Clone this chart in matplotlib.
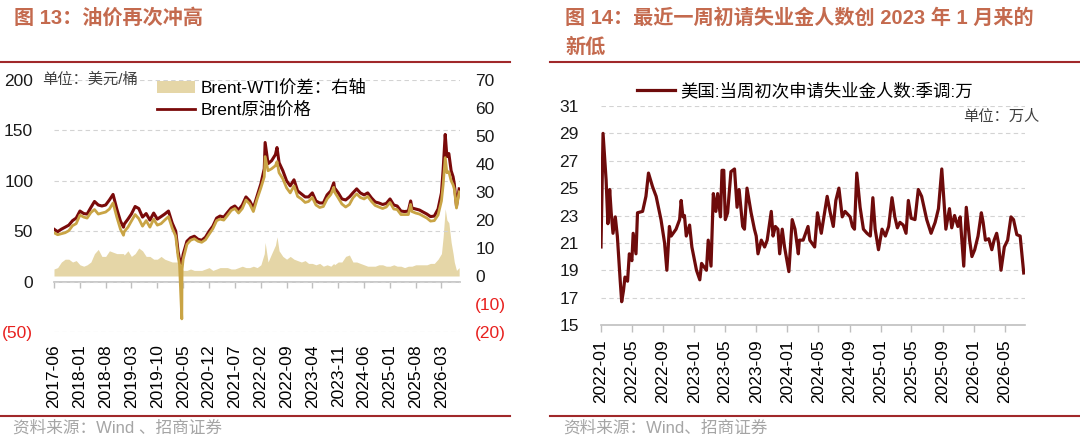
import pandas as pd
import matplotlib
matplotlib.use('Agg')
import matplotlib.pyplot as plt
import matplotlib.dates as mdates
from matplotlib.patches import Patch
from matplotlib.lines import Line2D

plt.rcParams['font.family'] = ['Liberation Sans', 'Noto Sans CJK SC']
plt.rcParams['axes.unicode_minus'] = False

# ---------------- 图13: Brent / WTI / spread ----------------
oil_dates = [
    '2017-06-01', '2017-07-01', '2017-08-01', '2017-09-01', '2017-10-01', '2017-11-01', '2017-12-01',
    '2018-01-01', '2018-02-01', '2018-03-01', '2018-04-01', '2018-05-01', '2018-06-01', '2018-07-01',
    '2018-08-01', '2018-09-01', '2018-10-01', '2018-11-01', '2018-12-01', '2018-12-26',
    '2019-01-01', '2019-02-01', '2019-03-01', '2019-04-01', '2019-05-01', '2019-06-01', '2019-07-01',
    '2019-08-01', '2019-09-01', '2019-10-01', '2019-11-01', '2019-12-01',
    '2020-01-01', '2020-02-01', '2020-03-01', '2020-03-20', '2020-04-01', '2020-04-20', '2020-04-22',
    '2020-05-01', '2020-06-01', '2020-07-01', '2020-08-01', '2020-09-01', '2020-10-01', '2020-11-01',
    '2020-12-01',
    '2021-01-01', '2021-02-01', '2021-03-01', '2021-04-01', '2021-05-01', '2021-06-01', '2021-07-01',
    '2021-08-01', '2021-09-01', '2021-10-01', '2021-11-01', '2021-12-01',
    '2022-01-01', '2022-02-01', '2022-03-01', '2022-03-08', '2022-04-01', '2022-05-01', '2022-06-01',
    '2022-06-14', '2022-07-01', '2022-08-01', '2022-09-01', '2022-10-01', '2022-11-01', '2022-12-01',
    '2023-01-01', '2023-02-01', '2023-03-01', '2023-04-01', '2023-05-01', '2023-06-01', '2023-07-01',
    '2023-08-01', '2023-09-01', '2023-09-25', '2023-10-01', '2023-11-01', '2023-12-01',
    '2024-01-01', '2024-02-01', '2024-03-01', '2024-04-01', '2024-05-01', '2024-06-01', '2024-07-01',
    '2024-08-01', '2024-09-01', '2024-10-01', '2024-11-01', '2024-12-01',
    '2025-01-01', '2025-02-01', '2025-03-01', '2025-04-01', '2025-05-01', '2025-06-01', '2025-06-20',
    '2025-07-01', '2025-08-01', '2025-09-01', '2025-10-01', '2025-11-01', '2025-12-01',
    '2026-01-01', '2026-02-01', '2026-03-01', '2026-03-15', '2026-04-01', '2026-04-15', '2026-05-01',
    '2026-05-20', '2026-06-05', '2026-06-15', '2026-07-03', '2026-07-25',
]
brent = [
    52, 49.5, 52, 54, 56, 60.5, 63,
    70, 67.5, 67, 73.5, 79.5, 76, 75, 76, 81, 86.5, 72, 60, 54,
    57, 62, 67, 74.5, 72.5, 64, 67.5, 61, 68, 62, 64.5, 67,
    70, 58, 50, 30, 22, 18, 20, 27, 40, 43.5, 45, 42, 41, 44, 50,
    55, 63, 65, 64, 68.5, 73, 75, 71, 76, 84, 80, 73,
    85, 97, 112, 138, 117, 120, 126, 133, 118, 110, 100, 95, 101, 90,
    87, 84, 84, 88, 80, 78, 78, 86, 90, 98, 93, 88, 82,
    81, 84, 88, 92, 88, 86, 88, 83, 79, 78, 76.5, 77.5,
    82, 76, 75, 70, 69.5, 70, 80, 73, 72, 71, 69, 67, 64.5,
    65, 72, 88, 111, 146, 124, 127, 110, 104, 97, 75, 92,
]
wti = [
    48.5, 46.5, 47.5, 48.5, 50.5, 55.5, 57.5,
    66, 64, 63, 68.5, 71.5, 67, 68, 69, 72, 78, 64, 52, 46,
    49.5, 54, 60, 66.5, 62.5, 55, 60.5, 54, 62, 56, 57.5, 61,
    64.5, 53, 45, 25, 17, -37, 12, 22, 37, 41, 42.5, 40, 39, 41.5, 47,
    52.5, 60.5, 62, 61, 65.5, 70.5, 72.5, 68, 72.5, 81, 77, 69.5,
    82, 93, 104, 124, 110, 112, 115, 119, 108, 102, 93, 88, 95, 84.5,
    82, 78.5, 79.5, 83.5, 76, 73.5, 74.5, 82, 86.5, 93.5, 89, 83, 77,
    74, 76.5, 83, 87, 83.5, 82, 84.5, 79.5, 75.5, 74, 72.5, 74,
    78.5, 72, 71.5, 66.5, 66.5, 66.5, 76.5, 69.5, 68, 67, 65, 63, 60,
    60.5, 66, 80, 96, 123, 108, 109, 100, 96, 92, 73, 89,
]
spread = [
    2.5, 3, 5, 6, 6, 5, 5.5,
    4, 3.5, 4, 5, 8, 9.5, 7, 7, 9, 8.5, 8, 8, 8,
    7.5, 9, 7, 8, 10, 9, 7, 7, 6, 6, 7, 6,
    5.5, 5, 5, 5, 5, 4, 3, 2, 2, 2.5, 2, 2, 2, 2.5, 3,
    2, 2.5, 3, 3, 3, 2.5, 2.5, 3, 3.5, 3, 3, 3.5,
    3, 4, 8, 12, 5, 8, 11, 14, 9, 7, 6, 7, 6, 5.5,
    5, 5.5, 4.5, 4.5, 4, 4.5, 3.5, 4, 3.5, 4.5, 4, 5, 5,
    7, 7.5, 5, 5, 4.5, 4, 3.5, 3.5, 3.5, 4, 4, 3.5,
    3.5, 4, 3.5, 3.5, 3, 3.5, 3.5, 3.5, 4, 4, 4, 4, 4.5,
    4.5, 6, 8, 14, 24, 20, 19, 12, 8, 5, 2, 3,
]
oil_ticks = ['2017-06', '2018-01', '2018-08', '2019-03', '2019-10', '2020-05', '2020-12', '2021-07',
             '2022-02', '2022-09', '2023-04', '2023-11', '2024-06', '2025-01', '2025-08', '2026-03']
left_yticks = [-50, 0, 50, 100, 150, 200]
right_yticks = [-20, -10, 0, 10, 20, 30, 40, 50, 60, 70]

# ---------------- 图14: initial jobless claims ----------------
claim_dates = [
    '2022-01-01', '2022-01-09', '2022-01-21', '2022-01-28', '2022-02-04', '2022-02-10', '2022-02-17',
    '2022-02-26', '2022-03-06', '2022-03-17', '2022-03-23', '2022-03-30', '2022-04-05', '2022-04-15',
    '2022-04-22', '2022-05-02', '2022-05-07', '2022-05-18', '2022-05-24', '2022-06-13', '2022-06-26',
    '2022-07-06', '2022-07-22', '2022-08-05', '2022-08-24', '2022-09-07', '2022-09-16', '2022-09-26',
    '2022-10-03', '2022-10-22', '2022-11-05', '2022-11-11', '2022-11-18', '2022-11-24', '2022-12-01',
    '2022-12-14', '2022-12-23',
    '2023-01-10', '2023-01-23', '2023-01-30', '2023-02-18', '2023-02-25', '2023-03-08', '2023-03-17',
    '2023-03-27', '2023-04-03', '2023-04-14', '2023-04-20', '2023-04-27', '2023-05-03', '2023-05-12',
    '2023-05-25', '2023-06-08', '2023-06-18', '2023-06-26', '2023-07-10', '2023-07-17', '2023-07-27',
    '2023-08-12', '2023-08-25', '2023-09-01', '2023-09-08', '2023-09-21', '2023-10-04', '2023-10-14',
    '2023-10-30', '2023-11-06', '2023-11-15', '2023-11-25', '2023-12-02', '2023-12-12', '2023-12-21',
    '2024-01-07', '2024-01-20', '2024-01-31', '2024-02-13', '2024-02-17', '2024-03-03', '2024-03-22',
    '2024-03-29', '2024-04-17', '2024-04-28', '2024-05-13', '2024-05-26', '2024-06-05', '2024-06-16',
    '2024-06-29', '2024-07-09', '2024-07-21', '2024-08-03', '2024-08-14', '2024-09-03', '2024-09-12',
    '2024-09-20', '2024-09-29', '2024-10-12', '2024-10-25', '2024-11-08', '2024-11-21', '2024-12-01',
    '2024-12-10', '2024-12-23',
    '2025-01-06', '2025-01-19', '2025-02-01', '2025-02-14', '2025-02-25', '2025-03-07', '2025-03-17',
    '2025-03-30', '2025-04-10', '2025-04-19', '2025-04-30', '2025-05-15', '2025-05-28', '2025-06-10',
    '2025-06-30', '2025-07-17', '2025-08-02', '2025-08-15', '2025-08-28', '2025-09-13', '2025-09-27',
    '2025-10-06', '2025-10-17', '2025-10-30', '2025-11-08', '2025-11-22', '2025-12-02', '2025-12-15',
    '2025-12-24',
    '2026-01-04', '2026-01-17', '2026-01-30', '2026-02-06', '2026-02-15', '2026-02-28', '2026-03-12',
    '2026-03-21', '2026-03-31', '2026-04-07', '2026-04-17', '2026-04-30', '2026-05-13', '2026-05-26',
    '2026-06-05', '2026-06-18', '2026-07-01', '2026-07-15',
]
claims = [
    20.7, 29.0, 25.6, 22.4, 24.9, 23.2, 21.7, 22.9, 21.5, 18.3, 16.7, 17.5, 18.5, 18.2,
    20.2, 19.7, 21.7, 20.2, 23.2, 23.3, 24.4, 26.1, 25.1, 24.4, 22.7, 21.0, 19.0, 22.2,
    21.5, 22.0, 22.7, 24.1, 22.9, 23.0, 21.5, 22.3, 20.7,
    19.0, 18.3, 19.5, 19.0, 21.2, 19.3, 24.6, 23.3, 24.6, 22.9, 26.3, 26.3, 22.7, 23.2,
    26.2, 26.4, 23.6, 24.9, 22.2, 22.0, 25.0, 23.2, 22.0, 21.5, 20.2, 21.2, 20.7, 21.2,
    23.3, 21.5, 22.2, 22.0, 20.2, 22.0, 20.7,
    18.9, 22.7, 22.0, 20.2, 21.2, 21.2, 22.2, 21.2, 20.7, 23.2, 21.7, 23.2, 24.4, 23.3,
    22.2, 24.1, 25.0, 22.9, 23.3, 22.9, 22.2, 22.0, 26.1, 23.6, 22.0, 21.7, 21.5, 24.3,
    22.0, 20.5,
    22.0, 21.5, 22.2, 24.3, 22.9, 22.1, 22.5, 22.3, 21.7, 24.1, 22.8, 22.7, 24.9, 24.4,
    22.7, 21.7, 22.5, 23.5, 26.4, 22.0, 23.5, 22.1, 23.0, 22.2, 22.9, 19.3, 23.6, 21.2,
    20.0,
    20.5, 21.5, 23.2, 22.5, 21.2, 21.3, 20.5, 21.2, 21.7, 21.0, 19.0, 20.7, 21.2, 22.9,
    22.7, 21.6, 21.5, 18.8,
]
claim_ticks = ['2022-01', '2022-05', '2022-09', '2023-01', '2023-05', '2023-09', '2024-01',
               '2024-05', '2024-09', '2025-01', '2025-05', '2025-09', '2026-01', '2026-05']
claim_yticks = [15, 17, 19, 21, 23, 25, 27, 29, 31]

BRENT_C = '#7A0A0A'
WTI_C = '#C9A445'
AREA_C = '#E5D6A7'
CLAIM_C = '#6E0B0B'
GRID_C = '#D3D3D3'
AXIS_C = '#BFBFBF'
NEG_C = '#E8201E'
TITLE_C = '#C46A4E'
RULE_C = '#A0282A'
SRC_C = '#A5A5A5'
FS = 12.5


def paren(v):
    return '(%d)' % -v if v < 0 else '%d' % v


W, H = 1080, 438
fig = plt.figure(figsize=(W / 100, H / 100), dpi=100)

# ---------------- left panel ----------------
ax = fig.add_axes([54 / W, 1 - 332 / H, 406 / W, 252 / H])
axr = ax.twinx()
od = pd.to_datetime(oil_dates)
axr.fill_between(od, 0, spread, color=AREA_C, lw=0)
ax.plot(od, brent, color=BRENT_C, lw=2.2, zorder=3)
ax.plot(od, wti, color=WTI_C, lw=2.0, zorder=4)
ax.set_zorder(axr.get_zorder() + 1)
ax.patch.set_visible(False)

ax.set_xlim(pd.Timestamp('2017-06-01'), pd.Timestamp('2026-08-01'))
ax.set_ylim(-50, 200)
axr.set_ylim(-20, 70)

ax.set_yticks(left_yticks)
ax.set_yticklabels([paren(v) for v in left_yticks])
for lbl, v in zip(ax.get_yticklabels(), left_yticks):
    lbl.set_color(NEG_C if v < 0 else '#1A1A1A')
ax.tick_params(axis='y', length=0, pad=15, labelsize=FS)

axr.set_yticks(right_yticks)
axr.set_yticklabels([paren(v) for v in right_yticks])
for lbl, v in zip(axr.get_yticklabels(), right_yticks):
    lbl.set_color(NEG_C if v < 0 else '#1A1A1A')
axr.tick_params(axis='y', length=0, pad=11, labelsize=FS)

ax.grid(axis='y', ls=(0, (4, 3)), color=GRID_C, lw=0.8)
for a in (ax, axr):
    for s in a.spines.values():
        s.set_visible(False)

oil_tick_dates = pd.to_datetime([t + '-01' for t in oil_ticks])
ax.set_xticks(oil_tick_dates)
ax.set_xticklabels(oil_ticks, rotation=90)
ax.tick_params(axis='x', length=0, pad=9, labelsize=FS)

# zero line with tick marks (x axis sits at 0 of the left scale)
sec = ax.secondary_xaxis((0 - (-50)) / 250)
sec.set_xticks(mdates.date2num(oil_tick_dates))
sec.tick_params(axis='x', length=4, width=1, color=AXIS_C, labelbottom=False, labeltop=False)
for s in sec.spines.values():
    s.set_color(AXIS_C)
    s.set_linewidth(1.2)

fig.text(42 / W, 1 - 80 / H, '单位：美元/桶', fontsize=11, color='#404040', va='center')
fig.legend([Patch(facecolor=AREA_C, edgecolor='none'), Line2D([], [], color=BRENT_C, lw=2)],
           ['Brent-WTI价差：右轴', 'Brent原油价格'],
           loc='upper left', bbox_to_anchor=(157 / W, 1 - 80 / H), frameon=False, fontsize=FS,
           handlelength=2.2, handletextpad=0.3, borderpad=0, borderaxespad=0, labelspacing=0.3)

# ---------------- right panel ----------------
ax2 = fig.add_axes([601 / W, 1 - 325 / H, 424 / W, 219 / H])
ax2.plot(pd.to_datetime(claim_dates), claims, color=CLAIM_C, lw=2.3)
ax2.set_xlim(pd.Timestamp('2022-01-01'), pd.Timestamp('2026-07-20'))
ax2.set_ylim(15, 31)
ax2.set_yticks(claim_yticks)
ax2.tick_params(axis='y', length=0, pad=16, labelsize=FS, labelcolor='#1A1A1A')
ax2.grid(axis='y', ls=(0, (4, 3)), color=GRID_C, lw=0.8)
claim_tick_dates = pd.to_datetime([t + '-01' for t in claim_ticks])
ax2.set_xticks(claim_tick_dates)
ax2.set_xticklabels(claim_ticks, rotation=90)
ax2.tick_params(axis='x', length=5, width=1, color=AXIS_C, pad=5, labelsize=FS)
for k, s in ax2.spines.items():
    s.set_visible(k == 'bottom')
ax2.spines['bottom'].set_color(AXIS_C)
ax2.spines['bottom'].set_linewidth(1.2)
ax2.set_axisbelow(True)

fig.legend([Line2D([], [], color=CLAIM_C, lw=2.3)], ['美国:当周初次申请失业金人数:季调:万'],
           loc='upper left', bbox_to_anchor=(637 / W, 1 - 82 / H), frameon=False, fontsize=FS,
           handlelength=2.2, handletextpad=0.3, borderpad=0, borderaxespad=0)
fig.text(963 / W, 1 - 117 / H, '单位：万人', fontsize=11, color='#404040', va='center')

# ---------------- titles, rules, sources ----------------
fig.text(14 / W, 1 - 18 / H, '图 13：油价再次冲高', fontsize=14.5, weight='bold', color=TITLE_C, va='center')
fig.text(565 / W, 1 - 18 / H, '图 14：最近一周初请失业金人数创 2023 年 1 月来的', fontsize=14.5,
         weight='bold', color=TITLE_C, va='center')
fig.text(565 / W, 1 - 47 / H, '新低', fontsize=14.5, weight='bold', color=TITLE_C, va='center')

for x0, x1 in ((0, 510), (550, 1080)):
    for yy in (62, 416):
        fig.add_artist(Line2D([x0 / W, x1 / W], [1 - yy / H, 1 - yy / H], color=RULE_C, lw=1.5))

fig.text(13 / W, 1 - 428 / H, '资料来源：Wind 、招商证券', fontsize=12, color=SRC_C, va='center')
fig.text(563 / W, 1 - 428 / H, '资料来源：Wind、招商证券', fontsize=12, color=SRC_C, va='center')

fig.savefig('out.png', dpi=100)
